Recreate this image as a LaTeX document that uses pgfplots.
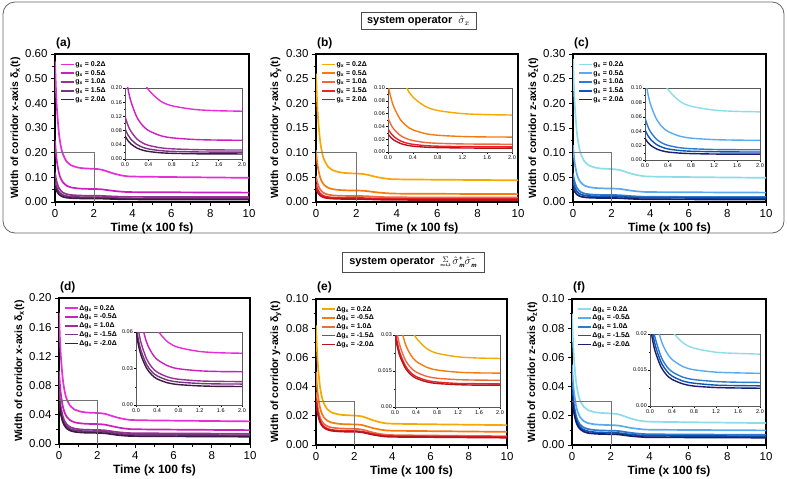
\documentclass[border=0pt]{standalone}
\usepackage{fontspec}
\setmainfont{Liberation Sans}
\usepackage{pgfplots}
\pgfplotsset{compat=1.18}
\usepackage{pgfplotstable}

\definecolor{m1}{HTML}{E62ED6}
\definecolor{m2}{HTML}{CC1FC0}
\definecolor{m3}{HTML}{9B2F95}
\definecolor{m4}{HTML}{74367F}
\definecolor{m5}{HTML}{3F1A42}
\definecolor{o1}{HTML}{F7A800}
\definecolor{o2}{HTML}{F57A10}
\definecolor{o3}{HTML}{EE6A3C}
\definecolor{o4}{HTML}{E8232A}
\definecolor{o5}{HTML}{B8141E}
\definecolor{b1}{HTML}{8CDCEC}
\definecolor{b2}{HTML}{5AAAF0}
\definecolor{b3}{HTML}{2C7BD0}
\definecolor{b4}{HTML}{0E55B5}
\definecolor{b5}{HTML}{1A1F6E}

\pgfplotstableread{
t     s1     s2     s3     s4     s5
0     0.570  0.250  0.120  0.085  0.065
0.05  0.4564 0.1985 0.0953 0.0678 0.0517
0.1   0.3777 0.1629 0.0782 0.0560 0.0426
0.2   0.2803 0.1187 0.0570 0.0412 0.0312
0.3   0.2270 0.0946 0.0454 0.0332 0.0250
0.4   0.1955 0.0803 0.0386 0.0284 0.0213
0.6   0.1640 0.0661 0.0317 0.0237 0.0176
0.8   0.1500 0.0597 0.0287 0.0216 0.0160
1.2   0.1394 0.0549 0.0264 0.0200 0.0147
1.6   0.1359 0.0533 0.0256 0.0194 0.0143
2.0   0.1345 0.0527 0.0253 0.0192 0.0142
2.4   0.1311 0.0513 0.0248 0.0187 0.0138
3.0   0.1159 0.0452 0.0226 0.0166 0.0121
3.5   0.1068 0.0415 0.0213 0.0153 0.0110
4     0.1033 0.0401 0.0208 0.0148 0.0106
6     0.1012 0.0393 0.0205 0.0145 0.0104
10    0.0980 0.0380 0.0200 0.0140 0.0100
}\tabA
\pgfplotstableread{
t     s1     s2     s3     s4     s5
0     0.260  0.105  0.053  0.036  0.028
0.05  0.2072 0.0837 0.0423 0.0287 0.0223
0.1   0.1707 0.0689 0.0350 0.0237 0.0183
0.2   0.1254 0.0506 0.0258 0.0174 0.0134
0.3   0.1006 0.0406 0.0208 0.0140 0.0107
0.4   0.0860 0.0347 0.0179 0.0120 0.0091
0.6   0.0714 0.0288 0.0149 0.0100 0.0076
0.8   0.0649 0.0262 0.0136 0.0091 0.0069
1.2   0.0600 0.0242 0.0126 0.0084 0.0063
1.6   0.0584 0.0235 0.0123 0.0082 0.0061
2.0   0.0577 0.0233 0.0121 0.0081 0.0061
2.4   0.0564 0.0226 0.0119 0.0079 0.0058
3.0   0.0507 0.0196 0.0105 0.0070 0.0050
3.5   0.0473 0.0178 0.0098 0.0065 0.0045
4     0.0460 0.0170 0.0095 0.0063 0.0043
6     0.0452 0.0166 0.0093 0.0062 0.0042
10    0.0440 0.0160 0.0090 0.0060 0.0040
}\tabB
\pgfplotstableread{
t     s1     s2     s3     s4     s5
0     0.290  0.115  0.058  0.042  0.030
0.05  0.2318 0.0921 0.0466 0.0339 0.0243
0.1   0.1914 0.0763 0.0386 0.0284 0.0203
0.2   0.1415 0.0567 0.0288 0.0214 0.0154
0.3   0.1142 0.0459 0.0235 0.0177 0.0127
0.4   0.0980 0.0396 0.0203 0.0154 0.0111
0.6   0.0819 0.0332 0.0171 0.0132 0.0096
0.8   0.0747 0.0304 0.0157 0.0122 0.0089
1.2   0.0693 0.0283 0.0146 0.0115 0.0083
1.6   0.0675 0.0276 0.0143 0.0112 0.0081
2.0   0.0668 0.0273 0.0142 0.0111 0.0081
2.4   0.0650 0.0266 0.0138 0.0109 0.0078
3.0   0.0577 0.0231 0.0120 0.0095 0.0065
3.5   0.0533 0.0210 0.0110 0.0088 0.0058
4     0.0516 0.0202 0.0106 0.0085 0.0055
6     0.0505 0.0197 0.0104 0.0083 0.0053
10    0.0490 0.0190 0.0100 0.0080 0.0050
}\tabC
\pgfplotstableread{
t     s1     s2     s3     s4     s5
0     0.180  0.100  0.075  0.065  0.060
0.05  0.1441 0.0810 0.0604 0.0525 0.0483
0.1   0.1193 0.0679 0.0504 0.0439 0.0402
0.2   0.0885 0.0516 0.0379 0.0332 0.0302
0.3   0.0717 0.0427 0.0310 0.0273 0.0247
0.4   0.0617 0.0374 0.0270 0.0239 0.0214
0.6   0.0518 0.0322 0.0230 0.0204 0.0182
0.8   0.0474 0.0298 0.0212 0.0189 0.0168
1.2   0.0440 0.0281 0.0198 0.0177 0.0157
1.6   0.0429 0.0275 0.0194 0.0173 0.0153
2.0   0.0425 0.0273 0.0192 0.0172 0.0152
2.4   0.0414 0.0265 0.0187 0.0167 0.0147
3.0   0.0366 0.0231 0.0165 0.0145 0.0125
3.5   0.0338 0.0210 0.0153 0.0133 0.0113
4     0.0327 0.0202 0.0148 0.0128 0.0108
6     0.0320 0.0197 0.0145 0.0125 0.0105
10    0.0310 0.0190 0.0140 0.0120 0.0100
}\tabD
\pgfplotstableread{
t     s1     s2     s3     s4     s5
0     0.082  0.050  0.036  0.032  0.030
0.05  0.0659 0.0406 0.0295 0.0262 0.0245
0.1   0.0547 0.0342 0.0250 0.0221 0.0208
0.2   0.0409 0.0261 0.0194 0.0171 0.0161
0.3   0.0333 0.0217 0.0164 0.0143 0.0135
0.4   0.0289 0.0191 0.0146 0.0127 0.0120
0.6   0.0244 0.0166 0.0128 0.0111 0.0105
0.8   0.0224 0.0154 0.0120 0.0104 0.0098
1.2   0.0209 0.0145 0.0114 0.0098 0.0093
1.6   0.0204 0.0142 0.0112 0.0097 0.0091
2.0   0.0202 0.0141 0.0111 0.0096 0.0091
2.4   0.0196 0.0137 0.0106 0.0092 0.0087
3.0   0.0169 0.0115 0.0085 0.0075 0.0070
3.5   0.0152 0.0103 0.0073 0.0065 0.0060
4     0.0146 0.0098 0.0068 0.0061 0.0056
6     0.0142 0.0095 0.0065 0.0059 0.0054
10    0.0136 0.0090 0.0060 0.0055 0.0050
}\tabE
\pgfplotstableread{
t     s1     s2     s3     s4     s5
0     0.090  0.055  0.042  0.038  0.034
0.05  0.0722 0.0442 0.0336 0.0303 0.0271
0.1   0.0598 0.0367 0.0278 0.0249 0.0223
0.2   0.0445 0.0275 0.0206 0.0183 0.0163
0.3   0.0361 0.0224 0.0166 0.0147 0.0130
0.4   0.0312 0.0194 0.0143 0.0125 0.0111
0.6   0.0263 0.0164 0.0120 0.0104 0.0092
0.8   0.0241 0.0151 0.0110 0.0095 0.0083
1.2   0.0224 0.0141 0.0102 0.0087 0.0077
1.6   0.0219 0.0138 0.0099 0.0085 0.0075
2.0   0.0216 0.0136 0.0098 0.0084 0.0074
2.4   0.0210 0.0133 0.0096 0.0082 0.0072
3.0   0.0183 0.0118 0.0084 0.0072 0.0062
3.5   0.0166 0.0109 0.0077 0.0066 0.0056
4     0.0160 0.0105 0.0074 0.0063 0.0053
6     0.0156 0.0103 0.0072 0.0062 0.0052
10    0.0150 0.0100 0.0070 0.0060 0.0050
}\tabF

\newcommand{\fiveplots}[6]{%
\addplot[#2] table[x=t,y=s1]{#1};
\addplot[#3] table[x=t,y=s2]{#1};
\addplot[#4] table[x=t,y=s3]{#1};
\addplot[#5] table[x=t,y=s4]{#1};
\addplot[#6] table[x=t,y=s5]{#1};
}

\pgfplotsset{
  mainax/.style={
    scale only axis, anchor=south west,
    xmin=0, xmax=10, ymin=0,
    xtick={0,2,4,6,8,10}, minor x tick num=1, minor y tick num=1,
    tick align=outside, tick pos=left,
    axis line style={line width=1.5bp},
    major tick length=4bp, minor tick length=2.5bp,
    every tick/.style={black, line width=0.9bp},
    /pgf/number format/assume math mode=true,
    tick label style={font=\fontsize{11.5}{12}\selectfont},
    yticklabel style={/pgf/number format/fixed, /pgf/number format/fixed zerofill, /pgf/number format/precision=2},
    scaled y ticks=false,
    xlabel={Time (x 100 fs)},
    xlabel style={font=\bfseries\fontsize{12}{13}\selectfont, yshift=2bp},
    ylabel style={font=\bfseries\fontsize{10.5}{12}\selectfont, yshift=-2bp},
    every axis plot/.append style={line width=1.7bp, smooth},
    legend cell align=left,
    legend style={at={(0.025,0.96)}, anchor=north west, draw=none, fill=none,
      inner sep=0pt, font=\bfseries\fontsize{7}{7}\selectfont, row sep=0.4bp,
      nodes={inner sep=0.8bp, text height=5.3bp, text depth=1.5bp}},
    legend image code/.code={\draw[##1, line width=1.6bp] (0bp,0bp) -- (13bp,0bp);},
  },
  insetax/.style={
    scale only axis, anchor=south west,
    xmin=0, xmax=2, ymin=0,
    xtick={0,0.4,0.8,1.2,1.6,2.0}, minor x tick num=1, minor y tick num=1,
    tick align=outside, tick pos=left,
    axis line style={line width=0.9bp, black!65},
    major tick length=2bp, minor tick length=1.2bp,
    every tick/.style={black, line width=0.5bp},
    /pgf/number format/assume math mode=true,
    tick label style={font=\fontsize{5.5}{6}\selectfont, inner sep=1bp},
    xticklabel style={/pgf/number format/fixed, /pgf/number format/fixed zerofill, /pgf/number format/precision=1},
    yticklabel style={/pgf/number format/fixed, /pgf/number format/fixed zerofill, /pgf/number format/precision=2},
    scaled y ticks=false, scaled x ticks=false,
    axis background/.style={fill=white},
    every axis plot/.append style={line width=1.4bp, smooth},
  },
}

\begin{document}
\begin{tikzpicture}
\useasboundingbox (0,0) rectangle (787bp,-479bp);
\fill[white] (0,0) rectangle (787bp,-479bp);
\draw[rounded corners=12bp, line width=0.8bp, black!60] (3bp,-2bp) rectangle (784bp,-233bp);

% ---------- (a)
\begin{axis}[mainax, at={(55bp,-202bp)}, width=194bp, height=148bp,
  ymax=0.6, ytick={0,0.1,0.2,0.3,0.4,0.5,0.6},
  ylabel={Width of corridor x-axis δ\textsubscript{x}(t)}]
\fiveplots{\tabA}{m1}{m2}{m3}{m4}{m5}
\addplot[forget plot, sharp plot, black!55, line width=0.6bp] coordinates {(0,0.2) (2,0.2) (2,0)};
\legend{g\textsubscript{x} = 0.2Δ, g\textsubscript{x} = 0.5Δ, g\textsubscript{x} = 1.0Δ, g\textsubscript{x} = 1.5Δ, g\textsubscript{x} = 2.0Δ}
\end{axis}
\begin{axis}[insetax, at={(125bp,-159bp)}, width=117bp, height=71bp,
  ymax=0.2, ytick={0,0.04,0.08,0.12,0.16,0.2}]
\fiveplots{\tabA}{m1}{m2}{m3}{m4}{m5}
\end{axis}

% ---------- (b)
\begin{axis}[mainax, at={(316bp,-202bp)}, width=202bp, height=148bp,
  ymax=0.3, ytick={0,0.05,0.1,0.15,0.2,0.25,0.3},
  ylabel={Width of corridor y-axis δ\textsubscript{y}(t)}]
\fiveplots{\tabB}{o1}{o2}{o3}{o4}{o5}
\addplot[forget plot, sharp plot, black!55, line width=0.6bp] coordinates {(0,0.1) (2,0.1) (2,0)};
\legend{g\textsubscript{x} = 0.2Δ, g\textsubscript{x} = 0.5Δ, g\textsubscript{x} = 1.0Δ, g\textsubscript{x} = 1.5Δ, g\textsubscript{x} = 2.0Δ}
\end{axis}
\begin{axis}[insetax, at={(388bp,-152bp)}, width=124bp, height=64bp,
  ymax=0.1, ytick={0,0.02,0.04,0.06,0.08,0.1}]
\fiveplots{\tabB}{o1}{o2}{o3}{o4}{o5}
\end{axis}

% ---------- (c)
\begin{axis}[mainax, at={(573bp,-202bp)}, width=193bp, height=148bp,
  ymax=0.3, ytick={0,0.05,0.1,0.15,0.2,0.25,0.3},
  ylabel={Width of corridor z-axis δ\textsubscript{z}(t)}]
\fiveplots{\tabC}{b1}{b2}{b3}{b4}{b5}
\addplot[forget plot, sharp plot, black!55, line width=0.6bp] coordinates {(0,0.1) (2,0.1) (2,0)};
\legend{g\textsubscript{x} = 0.2Δ, g\textsubscript{x} = 0.5Δ, g\textsubscript{x} = 1.0Δ, g\textsubscript{x} = 1.5Δ, g\textsubscript{x} = 2.0Δ}
\end{axis}
\begin{axis}[insetax, at={(645bp,-160bp)}, width=115bp, height=72bp,
  ymax=0.1, ytick={0,0.02,0.04,0.06,0.08,0.1}]
\fiveplots{\tabC}{b1}{b2}{b3}{b4}{b5}
\end{axis}

% ---------- (d)
\begin{axis}[mainax, at={(59bp,-444bp)}, width=191bp, height=146bp,
  ymax=0.2, ytick={0,0.04,0.08,0.12,0.16,0.2},
  ylabel={Width of corridor x-axis δ\textsubscript{x}(t)}]
\fiveplots{\tabD}{m1}{m2}{m3}{m4}{m5}
\addplot[forget plot, sharp plot, black!55, line width=0.6bp] coordinates {(0,0.06) (2,0.06) (2,0)};
\legend{Δg\textsubscript{x} = 0.2Δ, Δg\textsubscript{x} = -0.5Δ, Δg\textsubscript{x} = 1.0Δ, Δg\textsubscript{x} = -1.5Δ, Δg\textsubscript{x} = -2.0Δ}
\end{axis}
\begin{axis}[insetax, at={(136bp,-405bp)}, width=106bp, height=73bp,
  ymax=0.06, ytick={0,0.03,0.06}]
\fiveplots{\tabD}{m1}{m2}{m3}{m4}{m5}
\end{axis}

% ---------- (e)
\begin{axis}[mainax, at={(316bp,-445bp)}, width=191bp, height=146bp,
  ymax=0.1, ytick={0,0.02,0.04,0.06,0.08,0.1},
  ylabel={Width of corridor y-axis δ\textsubscript{y}(t)}]
\fiveplots{\tabE}{o1}{o2}{o3}{o4}{o5}
\addplot[forget plot, sharp plot, black!55, line width=0.6bp] coordinates {(0,0.03) (2,0.03) (2,0)};
\legend{Δg\textsubscript{x} = 0.2Δ, Δg\textsubscript{x} = -0.5Δ, Δg\textsubscript{x} = 1.0Δ, Δg\textsubscript{x} = -1.5Δ, Δg\textsubscript{x} = -2.0Δ}
\end{axis}
\begin{axis}[insetax, at={(395bp,-407bp)}, width=105bp, height=72bp,
  ymax=0.03, ytick={0,0.015,0.03}, yticklabels={0.00,0.015,0.03}]
\fiveplots{\tabE}{o1}{o2}{o3}{o4}{o5}
\end{axis}

% ---------- (f)
\begin{axis}[mainax, at={(572bp,-445bp)}, width=194bp, height=146bp,
  ymax=0.1, ytick={0,0.02,0.04,0.06,0.08,0.1},
  ylabel={Width of corridor z-axis δ\textsubscript{z}(t)}]
\fiveplots{\tabF}{b1}{b2}{b3}{b4}{b5}
\addplot[forget plot, sharp plot, black!55, line width=0.6bp] coordinates {(0,0.03) (2,0.03) (2,0)};
\legend{Δg\textsubscript{x} = 0.2Δ, Δg\textsubscript{x} = -0.5Δ, Δg\textsubscript{x} = 1.0Δ, Δg\textsubscript{x} = -1.5Δ, Δg\textsubscript{x} = -2.0Δ}
\end{axis}
\begin{axis}[insetax, at={(650bp,-406bp)}, width=110bp, height=72bp,
  ymax=0.03, ytick={0,0.015,0.03}, yticklabels={0.00,0.015,0.02}]
\fiveplots{\tabF}{b1}{b2}{b3}{b4}{b5}
\end{axis}

% ---------- panel letters
\begin{scope}[every node/.style={font=\bfseries\fontsize{12}{12}\selectfont, inner sep=0pt, anchor=base west}]
\node at (56bp,-46bp) {(a)};
\node at (317bp,-46bp) {(b)};
\node at (574bp,-46bp) {(c)};
\node at (60bp,-290bp) {(d)};
\node at (317bp,-290bp) {(e)};
\node at (573bp,-290bp) {(f)};
\end{scope}

% ---------- section titles
\node[draw=black!70, line width=0.6bp, minimum width=115bp, minimum height=17bp, inner sep=1bp,
  font=\bfseries\fontsize{11}{12}\selectfont] at (418.5bp,-21bp)
  {system operator\ \ $\hat{\sigma}_x$};
\node[draw=black!70, line width=0.6bp, minimum width=142bp, minimum height=20bp, inner sep=1bp,
  font=\bfseries\fontsize{11}{12}\selectfont] at (413bp,-262bp)
  {system operator\ \ \raisebox{-1.5bp}{\shortstack{\fontsize{8}{8}\selectfont$\Sigma$\\[-1bp]\fontsize{3.5}{4}\selectfont m=1,2}}\,%
   $\hat{\sigma}$\raisebox{4bp}{\fontsize{6}{6}\selectfont +}\kern-3.2bp\raisebox{-2.5bp}{\fontsize{6}{6}\selectfont\itshape m}%
   $\hat{\sigma}$\raisebox{4bp}{\fontsize{6}{6}\selectfont –}\kern-3.2bp\raisebox{-2.5bp}{\fontsize{6}{6}\selectfont\itshape m}};
\end{tikzpicture}
\end{document}
